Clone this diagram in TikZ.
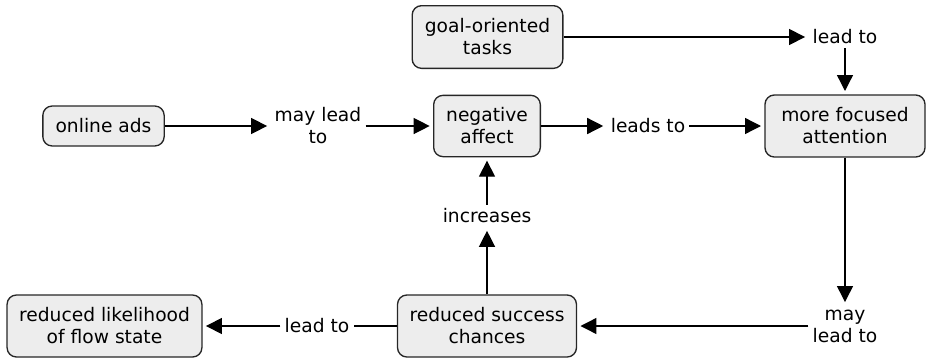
\documentclass[tikz,border=0pt]{standalone}
\usepackage{fontspec}
\setmainfont{DejaVu Sans}
\usetikzlibrary{arrows.meta}

\begin{document}
\begin{tikzpicture}[x=0.75pt, y=-0.75pt,
        concept/.style={draw=black!85, fill=black!7, line width=1pt, rounded corners=7pt, align=center, inner xsep=9pt, font=\fontsize{14}{16.5}\selectfont},
        phrase/.style={align=center, inner sep=3pt, font=\fontsize{14}{16.5}\selectfont},
        link/.style={line width=1pt, shorten >=2.5pt, -{Triangle[length=12pt, width=12pt]}},
        plain/.style={line width=1pt}]
                \useasboundingbox (0, 0) rectangle (926, 361);

                \node[concept, minimum width=113pt, minimum height=47pt] (goal) at (487.5, 37) {goal-oriented\\tasks};
                \node[concept, minimum width=91pt, minimum height=30pt] (ads) at (103.5, 126) {online ads};
                \node[concept, minimum width=80pt, minimum height=46pt] (negaff) at (487, 126) {negative\\affect};
                \node[concept, minimum width=120pt, minimum height=46.5pt] (focus) at (845, 126) {more focused\\attention};
                \node[concept, minimum width=134pt, minimum height=46.5pt] (success) at (487, 326) {reduced success\\chances};
                \node[concept, minimum width=146pt, minimum height=46.5pt] (likely) at (104.5, 326) {reduced likelihood\\of flow state};

                \node[phrase] (maylead) at (318, 126) {may lead\\to};
                \node[phrase] (leadsto) at (648, 126) {leads to};
                \node[phrase] (leadtop) at (845, 37) {lead to};
                \node[phrase] (incr) at (487, 216) {increases};
                \node[phrase] (mayright) at (845, 326) {may\\lead to};
                \node[phrase] (leadbot) at (317, 326) {lead to};

                % middle row
                \draw[link] (ads) -- (maylead);
                \draw[link] (maylead) -- (negaff);
                \draw[link] (negaff) -- (leadsto);
                \draw[link] (leadsto) -- (focus);

                % top row -> focus
                \draw[link] (goal) -- (leadtop);
                \draw[link] (leadtop) -- (focus);

                % right side down and back
                \draw[link] (focus) -- (mayright);
                \draw[link] (mayright) -- (success);

                % up to negative affect
                \draw[link] (success) -- (incr);
                \draw[link] (incr) -- (negaff);

                % bottom row
                \draw[plain] (success) -- (leadbot);
                \draw[link] (leadbot) -- (likely);

            \end{tikzpicture}
\end{document}
